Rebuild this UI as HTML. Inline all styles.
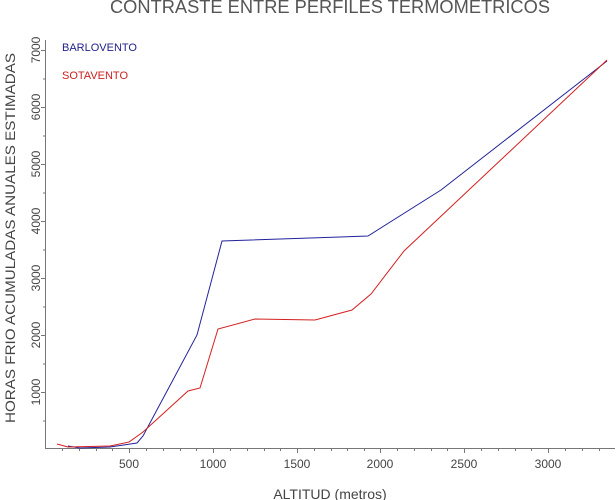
<!DOCTYPE html>
<html><head><meta charset="utf-8"><style>
html,body{margin:0;padding:0;background:#fff;}
svg{display:block;}
text{font-family:"Liberation Sans",sans-serif;}
</style></head><body>
<svg width="616" height="500" viewBox="0 0 616 500" xmlns="http://www.w3.org/2000/svg">
<text x="330" y="13" font-size="18" text-anchor="middle" fill="#555" textLength="440" lengthAdjust="spacingAndGlyphs">CONTRASTE ENTRE PERFILES TERMOMETRICOS</text>
<g stroke="#777" stroke-width="1" fill="none">
<line x1="45" y1="448.5" x2="615" y2="448.5"/>
<line x1="45.5" y1="40" x2="45.5" y2="449"/>
</g>
<g stroke="#777" stroke-width="1">
<line x1="62.5" y1="448" x2="62.5" y2="451"/><line x1="79.5" y1="448" x2="79.5" y2="451"/><line x1="96.5" y1="448" x2="96.5" y2="451"/><line x1="112.5" y1="448" x2="112.5" y2="451"/><line x1="129.5" y1="448" x2="129.5" y2="453"/>
<line x1="146.5" y1="448" x2="146.5" y2="451"/><line x1="163.5" y1="448" x2="163.5" y2="451"/><line x1="180.5" y1="448" x2="180.5" y2="451"/><line x1="196.5" y1="448" x2="196.5" y2="451"/><line x1="213.5" y1="448" x2="213.5" y2="453"/>
<line x1="230.5" y1="448" x2="230.5" y2="451"/><line x1="247.5" y1="448" x2="247.5" y2="451"/><line x1="264.5" y1="448" x2="264.5" y2="451"/><line x1="280.5" y1="448" x2="280.5" y2="451"/><line x1="297.5" y1="448" x2="297.5" y2="453"/>
<line x1="314.5" y1="448" x2="314.5" y2="451"/><line x1="331.5" y1="448" x2="331.5" y2="451"/><line x1="347.5" y1="448" x2="347.5" y2="451"/><line x1="364.5" y1="448" x2="364.5" y2="451"/><line x1="380.5" y1="448" x2="380.5" y2="453"/>
<line x1="397.5" y1="448" x2="397.5" y2="451"/><line x1="414.5" y1="448" x2="414.5" y2="451"/><line x1="431.5" y1="448" x2="431.5" y2="451"/><line x1="447.5" y1="448" x2="447.5" y2="451"/><line x1="464.5" y1="448" x2="464.5" y2="453"/>
<line x1="481.5" y1="448" x2="481.5" y2="451"/><line x1="498.5" y1="448" x2="498.5" y2="451"/><line x1="515.5" y1="448" x2="515.5" y2="451"/><line x1="531.5" y1="448" x2="531.5" y2="451"/><line x1="548.5" y1="448" x2="548.5" y2="453"/>
<line x1="565.5" y1="448" x2="565.5" y2="451"/><line x1="582.5" y1="448" x2="582.5" y2="451"/><line x1="599.5" y1="448" x2="599.5" y2="451"/>
<line x1="41" y1="50.5" x2="45" y2="50.5"/><line x1="41" y1="107.5" x2="45" y2="107.5"/><line x1="41" y1="164.5" x2="45" y2="164.5"/><line x1="41" y1="221.5" x2="45" y2="221.5"/><line x1="41" y1="278.5" x2="45" y2="278.5"/><line x1="41" y1="335.5" x2="45" y2="335.5"/><line x1="41" y1="392.5" x2="45" y2="392.5"/>
<line x1="43" y1="79" x2="45" y2="79"/><line x1="43" y1="136" x2="45" y2="136"/><line x1="43" y1="193" x2="45" y2="193"/><line x1="43" y1="250" x2="45" y2="250"/><line x1="43" y1="307" x2="45" y2="307"/><line x1="43" y1="364" x2="45" y2="364"/><line x1="43" y1="421" x2="45" y2="421"/>
</g>
<g font-size="12" fill="#444" text-anchor="middle">
<text x="129" y="468">500</text><text x="213" y="468">1000</text><text x="297" y="468">1500</text><text x="380" y="468">2000</text><text x="464" y="468">2500</text><text x="548" y="468">3000</text>
</g>
<g font-size="12" fill="#444" text-anchor="middle">
<text transform="translate(40,50) rotate(-90)">7000</text>
<text transform="translate(40,107) rotate(-90)">6000</text>
<text transform="translate(40,164) rotate(-90)">5000</text>
<text transform="translate(40,221) rotate(-90)">4000</text>
<text transform="translate(40,278) rotate(-90)">3000</text>
<text transform="translate(40,335) rotate(-90)">2000</text>
<text transform="translate(40,392) rotate(-90)">1000</text>
</g>
<text x="330" y="499" font-size="14" fill="#444" text-anchor="middle">ALTITUD (metros)</text>
<text transform="translate(15,238) rotate(-90)" font-size="14" fill="#444" text-anchor="middle" textLength="370" lengthAdjust="spacingAndGlyphs">HORAS FRIO ACUMULADAS ANUALES ESTIMADAS</text>
<text x="62" y="51" font-size="11" fill="#22228a">BARLOVENTO</text>
<text x="62" y="79" font-size="11" fill="#cc2020">SOTAVENTO</text>
<polyline fill="none" stroke="#22229a" stroke-width="1" points="68,446 80,448 110,447 137,443 143,436 197,335 222,241 340,237 368,236 441,190 607,61"/>
<polyline fill="none" stroke="#d42020" stroke-width="1" points="57,444 68,447 110,446 129,442 143,432 188,391 200,388 218,329 255,319 315,320 352,310 371,294 404,251 607,60"/>
</svg>
</body></html>
